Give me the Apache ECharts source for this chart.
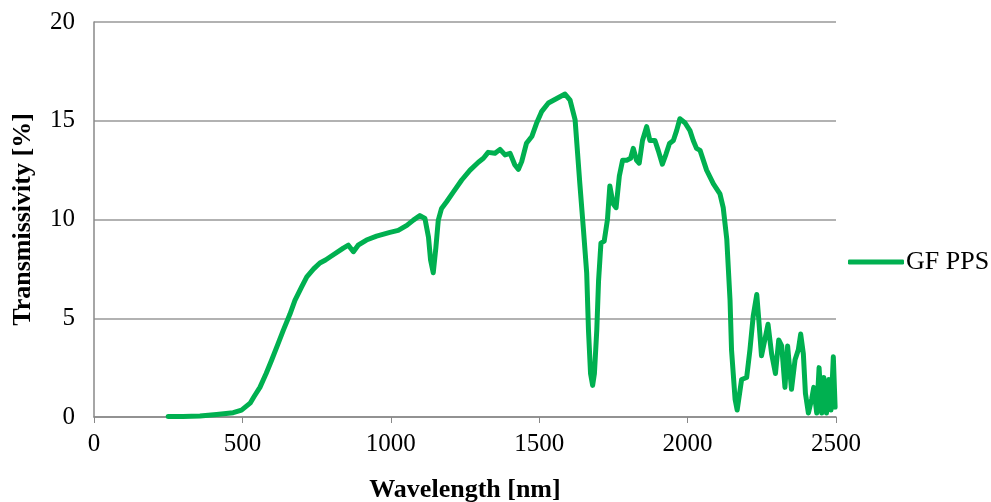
<!DOCTYPE html>
<html>
<head>
<meta charset="utf-8">
<script src="https://cdn.jsdelivr.net/npm/echarts@6/dist/echarts.min.js"></script>
<style>
  html, body { margin: 0; padding: 0; background: #fff; }
  #chart { width: 991px; height: 502px; }
</style>
</head>
<body>
<div id="chart"></div>
<script>
// wavelength [nm]
const wavelength = [
  250, 300, 357, 413, 469, 497, 526, 540, 559, 580, 599, 620, 638, 660, 677, 700, 717, 740, 761, 780, 795,
  840, 857, 874, 890, 918, 952,
  997, 1025, 1054, 1076, 1098, 1115, 1127, 1134, 1143, 1152, 1160, 1171, 1188, 1211, 1239, 1267, 1295, 1312, 1328, 1351,
  1368, 1385, 1402, 1418, 1430, 1441, 1457, 1475, 1491, 1508, 1531, 1559, 1587, 1604, 1621, 1637, 1649, 1660, 1666, 1673,
  1680, 1686, 1694, 1700, 1708, 1719, 1730, 1738, 1749, 1759, 1770, 1781, 1795, 1808, 1817, 1828, 1837, 1848, 1862, 1873,
  1890, 1901, 1915, 1927, 1939, 1952, 1963, 1974, 1991, 2008, 2019, 2030, 2042, 2064, 2087, 2109, 2120, 2132, 2143, 2148,
  2160, 2167, 2182, 2199, 2210, 2221, 2233, 2240, 2249, 2260, 2271, 2283, 2296, 2307, 2317, 2328, 2337, 2350, 2362, 2373,
  2381, 2390, 2397, 2407, 2418, 2425, 2435, 2443, 2452, 2459, 2468, 2476, 2483, 2491, 2497
];
// transmissivity [%]
const transmissivity = [
  0.02, 0.03, 0.05, 0.13, 0.22, 0.35, 0.7, 1.05, 1.5, 2.2, 2.9, 3.7, 4.4, 5.2, 5.9, 6.6, 7.1, 7.5, 7.8, 7.95, 8.1,
  8.55, 8.7, 8.37, 8.7, 8.96, 9.16,
  9.35, 9.45, 9.7, 9.97, 10.2, 10.05, 9.1, 7.95, 7.3, 8.6, 9.97, 10.56, 10.9, 11.4, 12.0, 12.5, 12.9, 13.1, 13.4, 13.35,
  13.55, 13.27, 13.35, 12.76, 12.54, 12.93, 13.86, 14.2, 14.87, 15.46, 15.9, 16.13, 16.35, 16.05, 15.04, 11.8, 9.5, 7.3, 4.4, 2.2,
  1.6, 2.2, 4.4, 6.9, 8.8, 8.9, 10.0, 11.7, 10.8, 10.6, 12.2, 13.0, 13.0, 13.1, 13.6, 13.0, 12.85, 14.0, 14.7, 14.0,
  14.0, 13.5, 12.8, 13.3, 13.85, 14.0, 14.5, 15.1, 14.9, 14.5, 14.0, 13.6, 13.5, 12.5, 11.8, 11.3, 10.6, 9.0, 5.9, 3.4,
  0.9, 0.35, 1.9, 2.0, 3.4, 5.1, 6.2, 4.9, 3.1, 3.9, 4.7, 3.2, 2.2, 3.9, 3.6, 1.5, 3.6, 1.4, 2.9, 3.4,
  4.2, 3.2, 1.2, 0.2, 0.9, 1.5, 0.2, 2.5, 0.2, 2.0, 0.2, 1.9, 0.35, 3.05, 0.5
];
const xTicks = [0, 500, 1000, 1500, 2000, 2500];
const yTicks = [0, 5, 10, 15, 20];

const chart = echarts.init(document.getElementById('chart'));
const font = '"Liberation Serif", "Times New Roman", serif';

const option = {
  animation: false,
  backgroundColor: '#fff',
  grid: { left: 94, right: 155, top: 22, bottom: 85, containLabel: false, outerBoundsMode: 'none' },
  legend: {
    left: 843,
    top: 244,
    itemWidth: 56,
    itemHeight: 5,
    itemGap: 4,
    textStyle: { fontFamily: font, fontSize: 26, color: '#000', padding: [0, 0, 0, -3] },
    data: [{ name: 'GF PPS', icon: 'roundRect' }]
  },
  xAxis: {
    type: 'value',
    min: xTicks[0],
    max: xTicks[xTicks.length - 1],
    interval: 500,
    name: 'Wavelength [nm]',
    nameLocation: 'middle',
    nameGap: 60,
    nameTextStyle: { fontFamily: font, fontSize: 26, fontWeight: 'bold', color: '#000' },
    axisLine: { lineStyle: { color: '#888', width: 1.5 } },
    axisTick: { show: true, length: 6, lineStyle: { color: '#888' } },
    axisLabel: { margin: 15, fontFamily: font, fontSize: 25, color: '#000', formatter: v => String(v) },
    splitLine: { show: false }
  },
  yAxis: {
    type: 'value',
    min: yTicks[0],
    max: yTicks[yTicks.length - 1],
    interval: 5,
    name: 'Transmissivity [%]',
    nameLocation: 'middle',
    nameGap: 58,
    nameTextStyle: { fontFamily: font, fontSize: 26, fontWeight: 'bold', color: '#000' },
    axisLine: { show: true, lineStyle: { color: '#888', width: 1.5 } },
    axisTick: { show: false },
    axisLabel: { margin: 19, fontFamily: font, fontSize: 25, color: '#000', formatter: v => String(v) },
    splitLine: { show: true, lineStyle: { color: '#999', width: 1.5 } }
  },
  series: [
    {
      name: 'GF PPS',
      type: 'line',
      symbol: 'none',
      smooth: false,
      data: wavelength.map((w, i) => [w, transmissivity[i]]),
      lineStyle: { color: '#00b050', width: 5, cap: 'round', join: 'round' },
      itemStyle: { color: '#00b050' }
    }
  ]
};

chart.setOption(option);
</script>
</body>
</html>
